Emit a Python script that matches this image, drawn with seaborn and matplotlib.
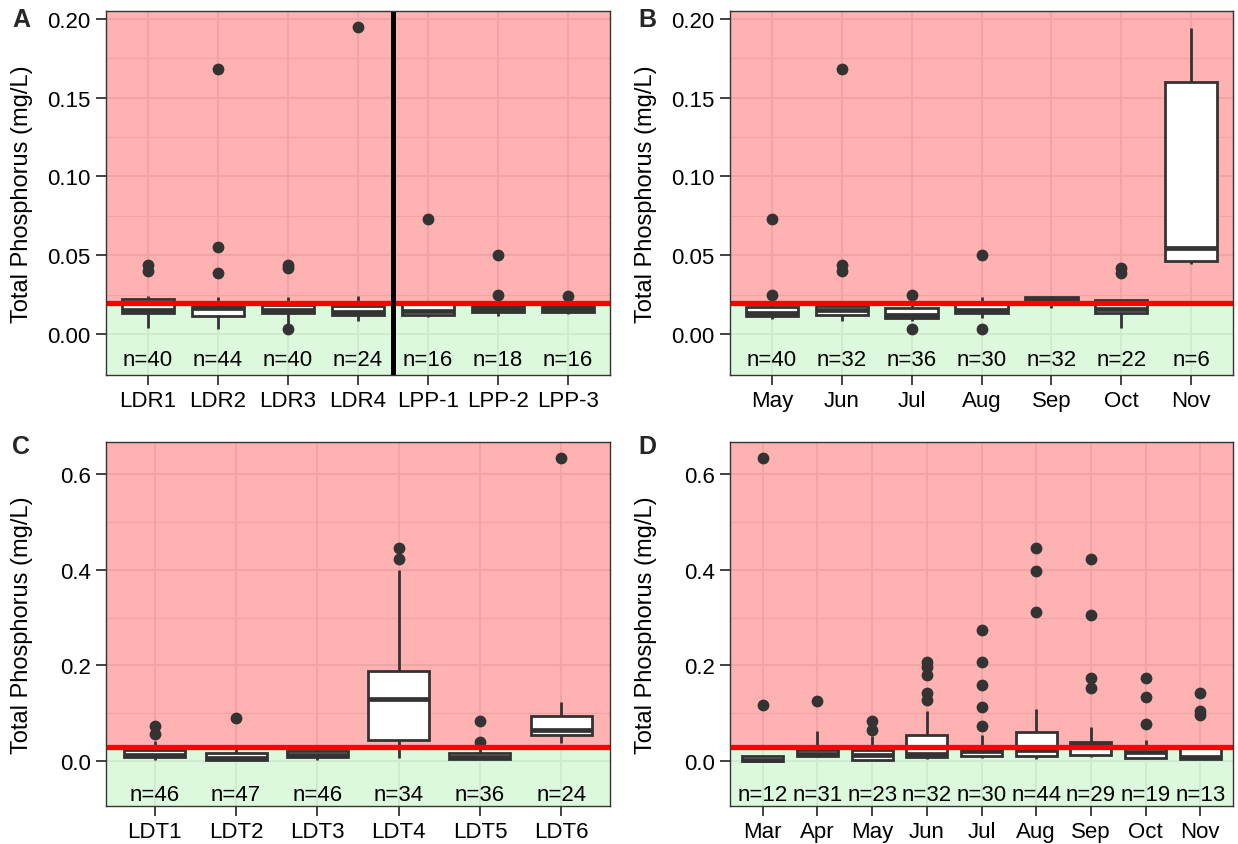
import numpy as np
import pandas as pd
import matplotlib
matplotlib.use("Agg")
import matplotlib.pyplot as plt
import seaborn as sns
from matplotlib.ticker import FixedLocator, FormatStrFormatter

sns.set_style("white")
plt.rcParams["font.family"] = ["Liberation Sans", "DejaVu Sans"]

# ---------------- Panel A : sites (0.02 mg/L threshold) ----------------
a_cats = ["LDR1", "LDR2", "LDR3", "LDR4", "LPP-1", "LPP-2", "LPP-3"]
a_lo  = [0.0038, 0.0032, 0.0063, 0.0084, 0.0105, 0.0112, 0.0127]
a_q1  = [0.0131, 0.0112, 0.0131, 0.0120, 0.0120, 0.0141, 0.0141]
a_med = [0.0150, 0.0165, 0.0155, 0.0137, 0.0145, 0.0160, 0.0160]
a_q3  = [0.0222, 0.0170, 0.0184, 0.0180, 0.0188, 0.0180, 0.0180]
a_hi  = [0.0240, 0.0236, 0.0236, 0.0243, 0.0200, 0.0200, 0.0200]
a_out_cat = ["LDR1", "LDR1", "LDR2", "LDR2", "LDR2", "LDR3", "LDR3", "LDR3",
             "LDR4", "LPP-1", "LPP-2", "LPP-2", "LPP-3"]
a_out_val = [0.044, 0.040, 0.168, 0.055, 0.039, 0.044, 0.042, 0.003,
             0.195, 0.073, 0.050, 0.025, 0.024]
a_n = [40, 44, 40, 24, 16, 18, 16]

# ---------------- Panel B : months (0.02 mg/L threshold) ----------------
b_cats = ["May", "Jun", "Jul", "Aug", "Sep", "Oct", "Nov"]
b_lo  = [0.0095, 0.0084, 0.0080, 0.0100, 0.0163, 0.0038, 0.0443]
b_q1  = [0.0112, 0.0122, 0.0101, 0.0133, 0.0211, 0.0133, 0.0464]
b_med = [0.0135, 0.0150, 0.0122, 0.0150, 0.0220, 0.0160, 0.0549]
b_q3  = [0.0173, 0.0180, 0.0165, 0.0190, 0.0232, 0.0217, 0.1600]
b_hi  = [0.0200, 0.0200, 0.0200, 0.0236, 0.0243, 0.0217, 0.1940]
b_out_cat = ["May", "May", "Jun", "Jun", "Jun", "Jul", "Jul", "Aug", "Aug", "Oct", "Oct"]
b_out_val = [0.073, 0.025, 0.168, 0.044, 0.040, 0.025, 0.003, 0.050, 0.003, 0.042, 0.039]
b_n = [40, 32, 36, 30, 32, 22, 6]

# ---------------- Panel C : sites (0.03 mg/L threshold) ----------------
c_cats = ["LDT1", "LDT2", "LDT3", "LDT4", "LDT5", "LDT6"]
c_lo  = [0.0030, 0.0014, 0.0030, 0.0063, 0.0042, 0.038]
c_q1  = [0.0077, 0.0014, 0.0077, 0.0430, 0.0042, 0.054]
c_med = [0.0130, 0.0060, 0.0130, 0.1305, 0.0090, 0.064]
c_q3  = [0.0240, 0.0168, 0.0217, 0.1890, 0.0168, 0.094]
c_hi  = [0.0410, 0.0310, 0.0280, 0.4000, 0.0300, 0.124]
c_out_cat = ["LDT1", "LDT1", "LDT2", "LDT4", "LDT4", "LDT5", "LDT5", "LDT6"]
c_out_val = [0.073, 0.056, 0.090, 0.445, 0.422, 0.084, 0.040, 0.633]
c_n = [46, 47, 46, 34, 36, 24]

# ---------------- Panel D : months (0.03 mg/L threshold) ----------------
d_cats = ["Mar", "Apr", "May", "Jun", "Jul", "Aug", "Sep", "Oct", "Nov"]
d_lo  = [0.0000, 0.0080, 0.0028, 0.0050, 0.0060, 0.0050, 0.0080, 0.0040, 0.0050]
d_q1  = [0.0000, 0.0098, 0.0028, 0.0077, 0.0098, 0.0098, 0.0120, 0.0063, 0.0050]
d_med = [0.0030, 0.0154, 0.0120, 0.0150, 0.0200, 0.0225, 0.0340, 0.0180, 0.0080]
d_q3  = [0.0098, 0.0240, 0.0240, 0.0540, 0.0274, 0.0610, 0.0400, 0.0270, 0.0270]
d_hi  = [0.0098, 0.0625, 0.0520, 0.1050, 0.0550, 0.1080, 0.0710, 0.0435, 0.0270]
d_out_cat = ["Mar", "Mar", "Apr", "May", "May",
             "Jun", "Jun", "Jun", "Jun", "Jun",
             "Jul", "Jul", "Jul", "Jul", "Jul",
             "Aug", "Aug", "Aug",
             "Sep", "Sep", "Sep", "Sep",
             "Oct", "Oct", "Oct",
             "Nov", "Nov", "Nov"]
d_out_val = [0.633, 0.118, 0.125, 0.083, 0.064,
             0.208, 0.197, 0.180, 0.143, 0.127,
             0.275, 0.208, 0.159, 0.113, 0.073,
             0.445, 0.397, 0.312,
             0.423, 0.305, 0.174, 0.152,
             0.173, 0.133, 0.077,
             0.143, 0.105, 0.096]
d_n = [12, 31, 23, 32, 30, 44, 29, 19, 13]

thr_ab, thr_cd = 0.02, 0.03
ylim_ab, ylim_cd = (-0.026, 0.205), (-0.094, 0.667)
yticks_ab, yticks_cd = [0.00, 0.05, 0.10, 0.15, 0.20], [0.0, 0.2, 0.4, 0.6]
yminor_ab, yminor_cd = [0.025, 0.075, 0.125, 0.175], [0.1, 0.3, 0.5]
nlab_ab, nlab_cd = -0.0160, -0.069

W, H = 1238, 845
fig = plt.figure(figsize=(W / 100, H / 100), dpi=100)

def add_ax(left, top, right, bottom):
    return fig.add_axes([left / W, 1 - bottom / H, (right - left) / W, (bottom - top) / H])

DARK = "#333333"
FS = 16

def panel(ax, cats, lo, q1, med, q3, hi, out_cat, out_val, n, thr, ylim, yticks, yminor, fmt, nlab_y):
    df = pd.DataFrame({"cat": np.repeat(cats, 5),
                       "val": np.column_stack([lo, q1, med, q3, hi]).ravel()})
    ax.axhspan(thr, ylim[1], color="red", alpha=0.3, lw=0, zorder=1)
    ax.axhspan(ylim[0], thr, color="#90EE90", alpha=0.3, lw=0, zorder=1)
    sns.boxplot(data=df, x="cat", y="val", order=cats, whis=(0, 100), showfliers=False,
                showcaps=False, width=0.75, color="white", linecolor=DARK, linewidth=2.0,
                medianprops=dict(linewidth=3.4, color=DARK), ax=ax)
    sns.stripplot(x=out_cat, y=out_val, order=cats, jitter=False, color=DARK, size=8.5,
                  linewidth=0, ax=ax, zorder=4)
    ax.axhline(thr, color="red", lw=3.8, zorder=4.5)
    for i, c in enumerate(n):
        ax.text(i, nlab_y, f"n={c}", ha="center", va="center", fontsize=FS, color="black", zorder=6)
    ax.set_xlim(-0.6, len(cats) - 0.4)
    ax.set_ylim(*ylim)
    ax.yaxis.set_major_locator(FixedLocator(yticks))
    ax.yaxis.set_major_formatter(FormatStrFormatter(fmt))
    ax.yaxis.set_minor_locator(FixedLocator(yminor))
    ax.set_axisbelow(True)
    ax.grid(which="major", color="#EBEBEB", lw=1.5)
    ax.grid(which="minor", axis="y", color="#EBEBEB", lw=0.8)
    ax.tick_params(which="major", bottom=True, left=True, length=7, width=1.3, color=DARK,
                   labelsize=FS, labelcolor="black", pad=4)
    ax.tick_params(which="minor", length=0)
    for s in ax.spines.values():
        s.set_color(DARK)
        s.set_linewidth(1.0)
        s.set_zorder(7)
    ax.set_xlabel("")
    ax.set_ylabel("Total Phosphorus (mg/L)", fontsize=17, color="black")
    ax.yaxis.set_label_coords(-0.145, 0.5)

axA = add_ax(106, 12, 610, 376)
axB = add_ax(730, 12, 1233, 376)
axC = add_ax(106, 443, 610, 807)
axD = add_ax(730, 443, 1233, 807)

panel(axA, a_cats, a_lo, a_q1, a_med, a_q3, a_hi, a_out_cat, a_out_val, a_n,
      thr_ab, ylim_ab, yticks_ab, yminor_ab, "%.2f", nlab_ab)
axA.axvline(3.5, color="black", lw=3.6, zorder=5)
panel(axB, b_cats, b_lo, b_q1, b_med, b_q3, b_hi, b_out_cat, b_out_val, b_n,
      thr_ab, ylim_ab, yticks_ab, yminor_ab, "%.2f", nlab_ab)
panel(axC, c_cats, c_lo, c_q1, c_med, c_q3, c_hi, c_out_cat, c_out_val, c_n,
      thr_cd, ylim_cd, yticks_cd, yminor_cd, "%.1f", nlab_cd)
panel(axD, d_cats, d_lo, d_q1, d_med, d_q3, d_hi, d_out_cat, d_out_val, d_n,
      thr_cd, ylim_cd, yticks_cd, yminor_cd, "%.1f", nlab_cd)

for lab, x, y in [("A", 12, 20), ("B", 638, 20), ("C", 12, 447), ("D", 638, 447)]:
    fig.text(x / W, 1 - y / H, lab, fontsize=18, fontweight="bold", ha="left", va="center")

fig.savefig("out.png", dpi=100)
